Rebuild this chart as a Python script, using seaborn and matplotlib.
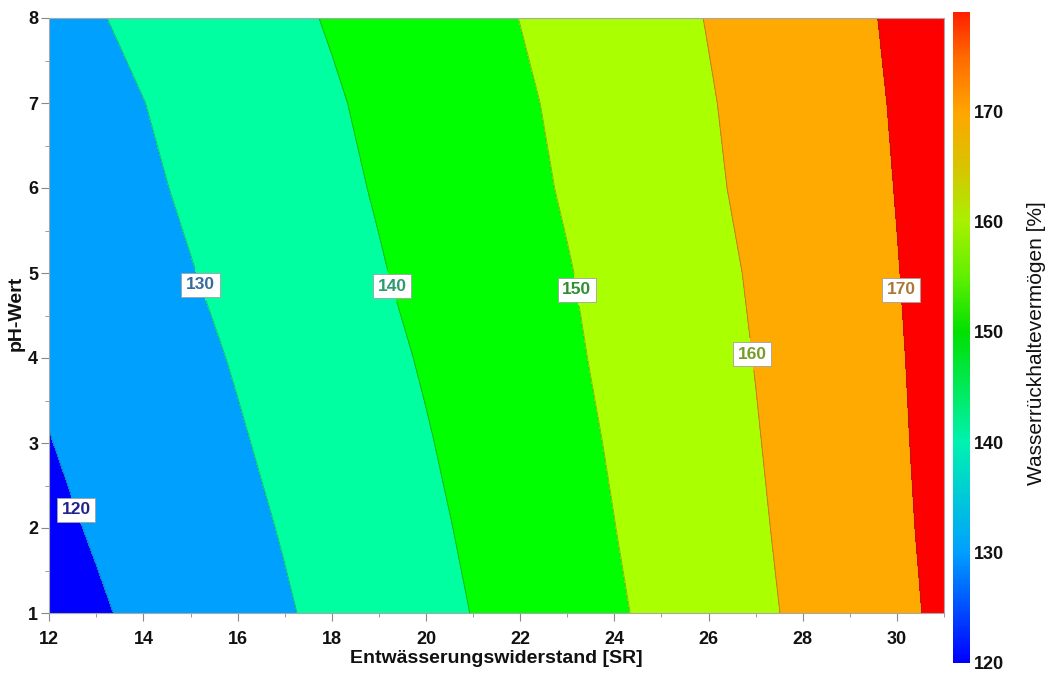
import numpy as np
import matplotlib
matplotlib.use("Agg")
import matplotlib.pyplot as plt
from matplotlib.colors import LinearSegmentedColormap, Normalize
from matplotlib.cm import ScalarMappable
import seaborn as sns

# ---------------- data ----------------
sr_values = [12, 13, 14, 15, 16, 17, 18, 19, 20, 21, 22, 23, 24, 25, 26, 27, 28, 29, 30, 31]
ph_values = [1, 2, 3, 4, 5, 6, 7, 8]

wrv_ph1 = [116.6, 119.1, 121.6, 124.1, 126.7, 129.3, 132.0, 134.7, 137.4, 140.2, 143.1, 146.1, 149.0, 152.0, 155.2, 158.3, 161.6, 164.9, 168.2, 171.6]
wrv_ph2 = [118.3, 120.7, 123.1, 125.6, 128.0, 130.5, 133.1, 135.8, 138.4, 141.2, 144.1, 147.0, 149.9, 152.9, 155.9, 159.0, 162.2, 165.4, 168.7, 172.1]
wrv_ph3 = [119.8, 122.2, 124.5, 126.9, 129.3, 131.8, 134.3, 136.9, 139.5, 142.3, 145.1, 147.9, 150.7, 153.7, 156.7, 159.6, 162.8, 165.9, 169.1, 172.4]
wrv_ph4 = [121.2, 123.5, 125.9, 128.2, 130.6, 133.1, 135.6, 138.1, 140.7, 143.4, 146.1, 148.8, 151.6, 154.4, 157.3, 160.2, 163.3, 166.3, 169.4, 172.7]
wrv_ph5 = [122.8, 125.1, 127.4, 129.7, 132.1, 134.6, 137.0, 139.5, 142.0, 144.5, 147.1, 149.6, 152.4, 155.2, 158.0, 160.8, 163.8, 166.8, 169.8, 172.9]
wrv_ph6 = [124.2, 126.5, 128.7, 131.1, 133.4, 135.8, 138.2, 140.6, 143.1, 145.6, 148.1, 150.7, 153.4, 156.1, 158.9, 161.7, 164.5, 167.4, 170.2, 173.2]
wrv_ph7 = [125.5, 127.7, 129.9, 132.2, 134.5, 136.9, 139.2, 141.6, 144.0, 146.5, 148.9, 151.5, 154.1, 156.8, 159.5, 162.2, 165.0, 167.8, 170.6, 173.6]
wrv_ph8 = [127.4, 129.5, 131.7, 133.9, 136.2, 138.4, 140.6, 143.0, 145.4, 147.7, 150.1, 152.7, 155.2, 157.7, 160.3, 163.0, 165.7, 168.4, 171.1, 174.0]

contour_levels = [120, 130, 140, 150, 160, 170]
band_levels = [100, 120, 130, 140, 150, 160, 170, 200]
band_colors = ["#0000FF", "#00A0FF", "#00FFA0", "#00FF00", "#AAFF00", "#FFAA00", "#FF0000"]
label_colors = ["#22228C", "#3A6A9C", "#2E9A70", "#2F8F2F", "#7A9A28", "#A87838"]
label_positions = [(12.6, 2.22), (15.25, 4.87), (19.3, 4.85), (23.15, 4.8), (26.87, 4.04), (30.05, 4.8)]

cbar_ticks = [120, 130, 140, 150, 160, 170]
cbar_min, cbar_max = 120, 179
cbar_anchor_values = [120, 130, 140, 150, 155, 160, 165, 170, 175, 179]
cbar_anchor_colors = ["#0000FF", "#00A0FF", "#00F2B0", "#00E000", "#60F000", "#A8F000",
                      "#D8C400", "#FFA500", "#FF6A00", "#FF2000"]

x_label = "Entwässerungswiderstand [SR]"
y_label = "pH-Wert"
cbar_label = "Wasserrückhaltevermögen [%]"

# ---------------- style ----------------
sns.set_style("ticks")
plt.rcParams["font.family"] = ["Liberation Sans", "DejaVu Sans"]

W, H = 1045, 673
fig = plt.figure(figsize=(W / 100, H / 100), dpi=100)
ax_l, ax_r, ax_t, ax_b = 49.3, 944.0, 18.0, 613.0
ax = fig.add_axes([ax_l / W, 1 - ax_b / H, (ax_r - ax_l) / W, (ax_b - ax_t) / H])
cax = fig.add_axes([953 / W, 1 - 663 / H, 17 / W, 651 / H])

X, Y = np.meshgrid(np.array(sr_values, float), np.array(ph_values, float))
Z = np.array([wrv_ph1, wrv_ph2, wrv_ph3, wrv_ph4, wrv_ph5, wrv_ph6, wrv_ph7, wrv_ph8])

ax.contourf(X, Y, Z, levels=band_levels, colors=band_colors)
cs = ax.contour(X, Y, Z, levels=contour_levels, colors="#3a3a3a", linewidths=0.7, alpha=0.35)
texts = ax.clabel(cs, contour_levels, inline=True, inline_spacing=2, fmt="%d", fontsize=12.5,
                  colors=label_colors, manual=label_positions)
for t in texts:
    t.set_alpha(1.0)
    t.set_rotation(0)
    t.set_fontweight("bold")
    t.set_bbox(dict(boxstyle="square,pad=0.26", facecolor="white", edgecolor="#a0a0a0",
                    linewidth=0.6, alpha=1.0))

ax.set_xlim(12, 31)
ax.set_ylim(1, 8)
ax.set_xticks(list(range(12, 31, 2)))
ax.set_xticks(list(range(13, 32, 2)), minor=True)
ax.set_yticks(list(range(1, 9)))
ax.set_yticks([v + 0.5 for v in range(1, 8)], minor=True)
ax.tick_params(axis="both", which="major", direction="out", length=6, width=0.8, color="#888888",
               labelsize=13, labelcolor="#111111")
ax.tick_params(axis="both", which="minor", direction="out", length=3, width=0.7, color="#999999")
ax.tick_params(axis="x", which="major", pad=7)
ax.tick_params(axis="y", which="major", pad=2)
for lab in ax.get_xticklabels() + ax.get_yticklabels():
    lab.set_fontweight("bold")
for sp in ax.spines.values():
    sp.set_color("#a8a8a8")
    sp.set_linewidth(0.8)

ax.set_xlabel(x_label, fontsize=14, fontweight="bold", color="#111111")
ax.set_ylabel(y_label, fontsize=14, fontweight="bold", color="#111111")
ax.xaxis.set_label_coords(0.5, -0.062)
ax.yaxis.set_label_coords(-0.027, 0.504)

cmap = LinearSegmentedColormap.from_list(
    "wrv", [((v - cbar_min) / (cbar_max - cbar_min), c) for v, c in zip(cbar_anchor_values, cbar_anchor_colors)])
sm = ScalarMappable(norm=Normalize(cbar_min, cbar_max), cmap=cmap)
cb = fig.colorbar(sm, cax=cax, ticks=cbar_ticks)
cb.outline.set_visible(False)
cax.tick_params(length=0, pad=3, labelsize=13, labelcolor="#111111")
for lab in cax.get_yticklabels():
    lab.set_fontweight("bold")
fig.text(1037 / W, 1 - 343 / H, cbar_label, rotation=90, ha="center", va="center",
         fontsize=15, color="#111111")

fig.savefig("out.png", dpi=100)
